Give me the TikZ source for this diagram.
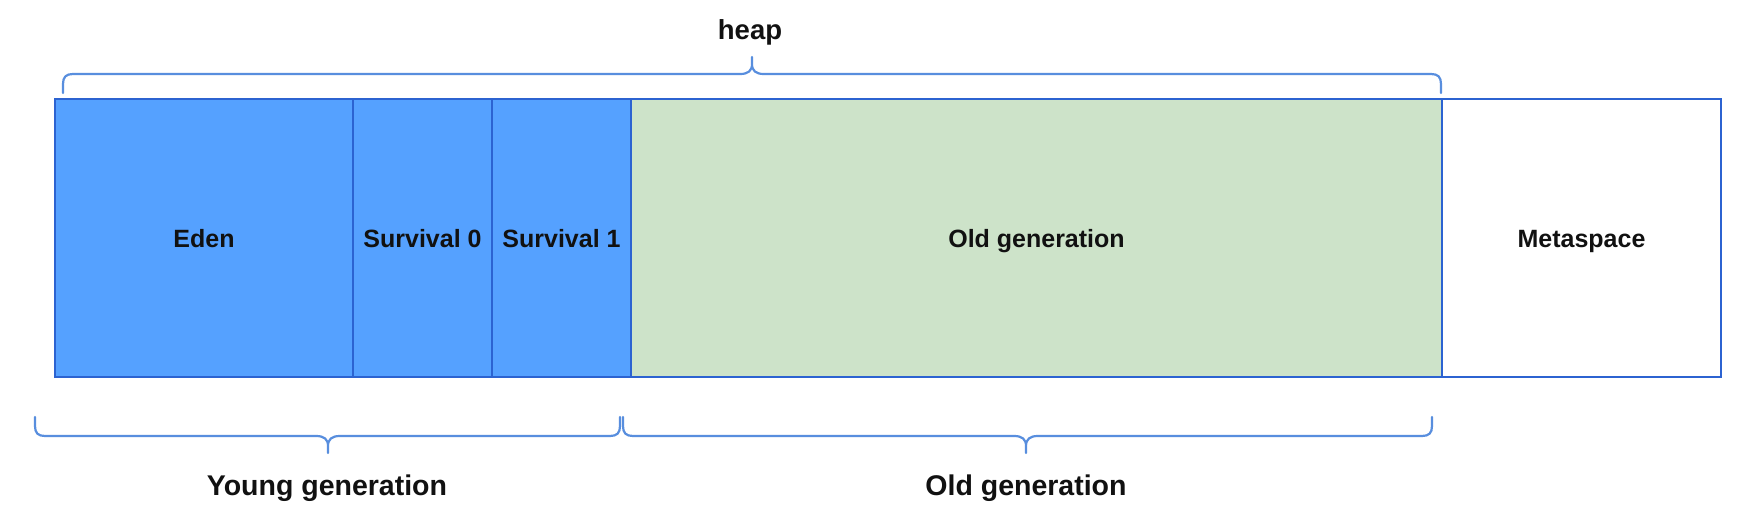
\documentclass[tikz,border=0pt]{standalone}
\usepackage{fontspec}
\setmainfont{Liberation Sans}
\definecolor{blueF}{RGB}{85,161,255}
\definecolor{strokeB}{RGB}{44,99,209}
\definecolor{braceB}{RGB}{88,142,222}
\definecolor{greenF}{RGB}{205,227,201}
\definecolor{txt}{RGB}{17,17,17}
\tikzset{
  cell/.style={draw=strokeB, line width=2pt, inner sep=0pt, anchor=north west,
    minimum height=278pt, text height=18pt, text depth=0pt,
    font=\fontsize{25}{30}\selectfont\bfseries, text=txt},
  bracestyle/.style={draw=braceB, line width=2.2pt, line cap=round, line join=round},
  biglabel/.style={anchor=base, inner sep=0pt, font=\fontsize{28.5}{34}\selectfont\bfseries, text=txt}
}
\begin{document}
\begin{tikzpicture}[x=1pt, y=-1pt]
\useasboundingbox (0,0) rectangle (1740,520);
\fill[white] (0,0) rectangle (1740,520);
% cells
\node[cell, fill=blueF, minimum width=298pt] (eden) at (54,98) {Eden};
\node[cell, fill=blueF, minimum width=139pt] (s0) at (352,98) {Survival 0};
\node[cell, fill=blueF, minimum width=139pt] (s1) at (491,98) {Survival 1};
\node[cell, fill=greenF, minimum width=811pt] (old) at (630,98) {Old generation};
\node[cell, fill=white, minimum width=279pt] (meta) at (1441,98) {Metaspace};
% heap brace
\draw[bracestyle] (63,93) -- (63,84) .. controls (63,77) and (66,74) .. (73,74) -- (740,74)
  .. controls (748,74) and (752,71) .. (752,64) -- (752,57)
  (752,64) .. controls (752,71) and (756,74) .. (764,74) -- (1431,74)
  .. controls (1438,74) and (1441,77) .. (1441,84) -- (1441,93);
\node[biglabel, font=\fontsize{27.5}{33}\selectfont\bfseries] (heap) at (750,39) {heap};
% young brace
\draw[bracestyle] (35,417) -- (35,426) .. controls (35,433) and (38,436) .. (45,436) -- (316,436)
  .. controls (324,436) and (328,439) .. (328,446) -- (328,453)
  (328,446) .. controls (328,439) and (332,436) .. (340,436) -- (610,436)
  .. controls (617,436) and (620,433) .. (620,426) -- (620,417);
\node[biglabel] (young) at (327,495) {Young generation};
% old brace
\draw[bracestyle] (623,417) -- (623,426) .. controls (623,433) and (626,436) .. (633,436) -- (1014,436)
  .. controls (1022,436) and (1026,439) .. (1026,446) -- (1026,453)
  (1026,446) .. controls (1026,439) and (1030,436) .. (1038,436) -- (1422,436)
  .. controls (1429,436) and (1432,433) .. (1432,426) -- (1432,417);
\node[biglabel] (oldlabel) at (1026,495) {Old generation};
\end{tikzpicture}
\end{document}
